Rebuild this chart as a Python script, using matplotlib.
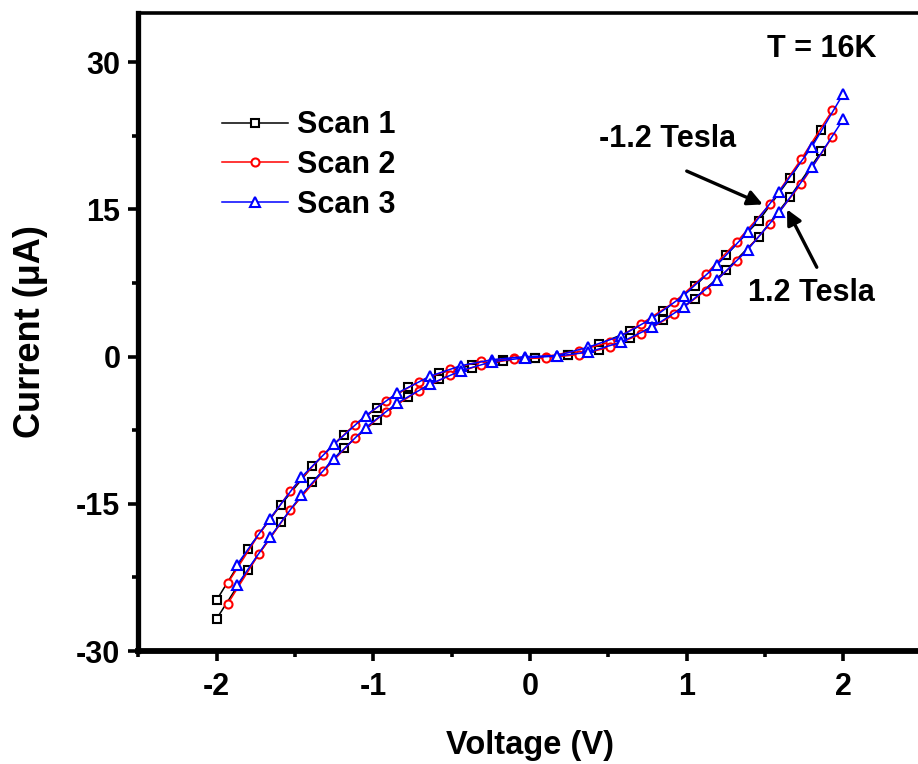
import numpy as np
import matplotlib
matplotlib.use('Agg')
import matplotlib.pyplot as plt
from matplotlib.ticker import MultipleLocator

plt.rcParams['font.family'] = ['Liberation Sans', 'DejaVu Sans']
plt.rcParams['font.weight'] = 'bold'
plt.rcParams['axes.unicode_minus'] = False

# I-V loops, three scans; "hi" = upper branch (-1.2 T side), "lo" = lower branch
scan1_v = [-2.00, -1.80, -1.59, -1.39, -1.19, -0.98, -0.78, -0.58, -0.37, -0.17,
           0.03, 0.24, 0.44, 0.64, 0.85, 1.05, 1.25, 1.46, 1.66, 1.86]
scan1_hi = [-24.8, -19.6, -15.1, -11.2, -7.96, -5.24, -3.13, -1.70, -0.88, -0.34,
            -0.10, 0.20, 1.29, 2.58, 4.65, 7.14, 10.3, 13.85, 18.2, 23.1]
scan1_lo = [-26.7, -21.7, -16.9, -12.8, -9.35, -6.46, -4.08, -2.31, -1.16, -0.45,
            -0.13, 0.15, 0.68, 1.85, 3.70, 5.88, 8.78, 12.2, 16.3, 20.9]

scan2_v = [-1.93, -1.73, -1.53, -1.32, -1.12, -0.92, -0.71, -0.51, -0.31, -0.10,
           0.10, 0.31, 0.51, 0.71, 0.92, 1.12, 1.32, 1.53, 1.73, 1.93]
scan2_hi = [-23.1, -18.1, -13.7, -10.0, -6.94, -4.49, -2.55, -1.29, -0.48, -0.17,
            0.00, 0.61, 1.46, 3.34, 5.54, 8.37, 11.7, 15.5, 20.1, 25.1]
scan2_lo = [-25.2, -20.1, -15.6, -11.7, -8.33, -5.61, -3.47, -1.87, -0.82, -0.25,
            -0.13, 0.20, 0.95, 2.31, 4.29, 6.73, 9.73, 13.5, 17.6, 22.4]

scan3_v = [-1.87, -1.66, -1.46, -1.25, -1.05, -0.85, -0.64, -0.44, -0.24, -0.03,
           0.17, 0.37, 0.58, 0.78, 0.98, 1.19, 1.39, 1.59, 1.80, 2.00]
scan3_hi = [-21.2, -16.5, -12.3, -8.91, -6.02, -3.74, -2.01, -0.92, -0.31, 0.00,
            0.10, 0.95, 2.10, 3.90, 6.22, 9.29, 12.7, 16.8, 21.4, 26.8]
scan3_lo = [-23.3, -18.4, -14.1, -10.4, -7.24, -4.76, -2.82, -1.43, -0.51, -0.13,
            0.05, 0.44, 1.46, 3.00, 5.03, 7.76, 10.9, 14.7, 19.3, 24.2]

labels = ['Scan 1', 'Scan 2', 'Scan 3']
colors = ['black', 'red', 'blue']
markers = ['s', 'o', '^']
msizes = [5.5, 5.8, 7.2]

fig = plt.figure(figsize=(9.18, 7.64), dpi=100)
ax = fig.add_axes([0.1507, 0.1479, 0.8534, 0.835])

scans = [(scan1_v, scan1_hi, scan1_lo), (scan2_v, scan2_hi, scan2_lo),
         (scan3_v, scan3_hi, scan3_lo)]
for (v, hi, lo), lab, c, m, ms in zip(scans, labels, colors, markers, msizes):
    style = dict(color=c, lw=1.1, marker=m, ms=ms, mfc='white', mec=c, mew=1.5)
    ax.plot(v, hi, label=lab, **style)
    ax.plot(v, lo, **style)

ax.set_xlim(-2.5, 2.5)
ax.set_ylim(-30, 35)
ax.xaxis.set_major_locator(MultipleLocator(1))
ax.xaxis.set_minor_locator(MultipleLocator(0.5))
ax.yaxis.set_major_locator(MultipleLocator(15))
ax.yaxis.set_minor_locator(MultipleLocator(7.5))

ax.spines['left'].set_linewidth(3.8)
ax.spines['bottom'].set_linewidth(4.2)
ax.spines['top'].set_linewidth(2.6)
ax.spines['right'].set_linewidth(2.6)

ax.tick_params(which='major', direction='out', length=7, width=2.6,
               labelsize=22, pad=6)
ax.tick_params(which='minor', direction='out', length=4, width=2.6)
ax.tick_params(top=False, right=False, which='both')
ax.tick_params(axis='x', which='major', pad=8)
for t in ax.get_xticklabels() + ax.get_yticklabels():
    t.set_fontweight('bold')

ax.set_xlabel('Voltage (V)', fontsize=23.5, fontweight='bold', labelpad=20)
ax.set_ylabel('Current (\u03bcA)', fontsize=26, fontweight='bold', labelpad=20)

ax.text(1.51, 31.3, 'T = 16K', fontsize=22, fontweight='bold', va='center', ha='left')
ax.text(0.875, 22.2, '-1.2 Tesla', fontsize=22, fontweight='bold', va='center', ha='center')
ax.text(1.795, 6.5, '1.2 Tesla', fontsize=22, fontweight='bold', va='center', ha='center')

arrow = dict(arrowstyle='-|>,head_length=0.9,head_width=0.45', color='black',
             lw=2.4, shrinkA=0, shrinkB=0)
ax.annotate('', xy=(1.486, 15.5), xytext=(1.0, 18.9), arrowprops=arrow)
ax.annotate('', xy=(1.64, 15.0), xytext=(1.83, 9.1), arrowprops=arrow)

ax.legend(loc='center left', bbox_to_anchor=(222 / 918, 1 - 165 / 764),
          bbox_transform=fig.transFigure, frameon=False, borderpad=0,
          borderaxespad=0, handlelength=2.16, handletextpad=0.3,
          labelspacing=0.32, numpoints=1, prop={'size': 22, 'weight': 'bold'})

fig.savefig('out.png', dpi=100)
